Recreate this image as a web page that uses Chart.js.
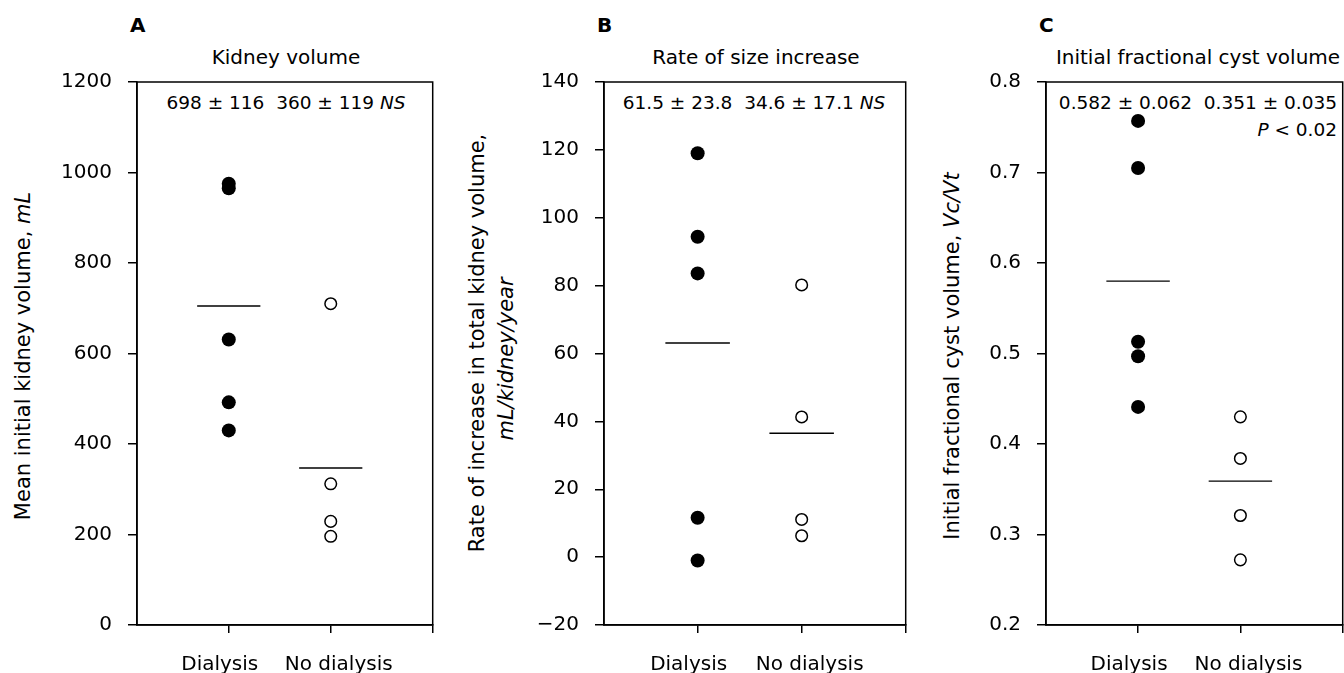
<!DOCTYPE html>
<html>
<head>
<meta charset="utf-8">
<script src="https://cdn.jsdelivr.net/npm/chart.js@4.4.1/dist/chart.umd.min.js"></script>
<style>
  body { margin: 0; width: 1344px; height: 673px; background: #fff; position: relative; overflow: hidden;
         font-family: "DejaVu Sans", sans-serif; color: #000; }
  canvas { position: absolute; }
  .t { position: absolute; white-space: nowrap; line-height: 1; }
  .letter { font-size: 20px; font-weight: bold; }
  .title { font-size: 20px; transform: translateX(-50%); }
  .note { font-size: 18.5px; }
  .ylab { font-size: 21px; transform: translate(-50%, -50%) rotate(-90deg); }
</style>
</head>
<body>

<div class="t letter" style="left:130px; top:15px">A</div>
<div class="t letter" style="left:597px; top:15px">B</div>
<div class="t letter" style="left:1039px; top:15px">C</div>

<div class="t title" style="left:286px; top:47px">Kidney volume</div>
<div class="t title" style="left:756px; top:47px">Rate of size increase</div>
<div class="t title" style="left:1198px; top:47px">Initial fractional cyst volume</div>

<div class="t note" style="left:286px; top:94px; transform:translateX(-50%)">698 ± 116&nbsp; 360 ± 119 <i>NS</i></div>
<div class="t note" style="left:754px; top:94px; transform:translateX(-50%)">61.5 ± 23.8&nbsp; 34.6 ± 17.1 <i>NS</i></div>
<div class="t note" style="right:7px; top:94px">0.582 ± 0.062&nbsp; 0.351 ± 0.035</div>
<div class="t note" style="right:7px; top:121px"><i>P</i> &lt; 0.02</div>

<div class="t ylab" style="left:23px; top:356px">Mean initial kidney volume, <i>mL</i></div>
<div class="t ylab" style="left:477px; top:343px">Rate of increase in total kidney volume,</div>
<div class="t ylab" style="left:506px; top:359px"><i>mL/kidney/year</i></div>
<div class="t ylab" style="left:952px; top:356px">Initial fractional cyst volume, <i>Vc/Vt</i></div>

<canvas id="chartA" width="381" height="606" style="left:57px; top:67px"></canvas>
<canvas id="chartB" width="387" height="606" style="left:524px; top:67px"></canvas>
<canvas id="chartC" width="378" height="606" style="left:966px; top:67px"></canvas>

<script>
const groups = ['Dialysis', 'No dialysis'];

// A: kidney volume, mL
const volDialysis = [975, 965, 631, 492, 430];
const volNoDialysis = [710, 312, 229, 196];
const volMeans = [705, 347];
const volTicks = [0, 200, 400, 600, 800, 1000, 1200];

// B: rate of increase, mL/kidney/year
const rateDialysis = [119, 94.4, 83.6, 11.6, -1.0];
const rateNoDialysis = [80.2, 41.3, 11.1, 6.3];
const rateMeans = [63.1, 36.5];
const rateTicks = [-20, 0, 20, 40, 60, 80, 100, 120, 140];

// C: fractional cyst volume
const cystDialysis = [0.757, 0.705, 0.513, 0.497, 0.441];
const cystNoDialysis = [0.430, 0.384, 0.321, 0.272];
const cystMeans = [0.580, 0.359];
const cystTicks = [0.2, 0.3, 0.4, 0.5, 0.6, 0.7, 0.8];

const HALF = 0.31;            // half length of the mean bar, in x units
const LABEL_SHIFT = [-9, 8];  // group labels sit a little apart from their ticks
const tickFont = { family: 'DejaVu Sans', size: 20 };

// box around the plot area + group names under the x ticks
const frame = {
  id: 'frame',
  afterDraw(chart) {
    const a = chart.chartArea, ctx = chart.ctx, xs = chart.scales.x;
    ctx.save();
    ctx.strokeStyle = '#000';
    ctx.lineWidth = 1.5;
    ctx.strokeRect(a.left, a.top, a.right - a.left, a.bottom - a.top);
    ctx.fillStyle = '#000';
    ctx.font = '20px "DejaVu Sans"';
    ctx.textAlign = 'center';
    ctx.textBaseline = 'alphabetic';
    groups.forEach((g, i) => {
      ctx.fillText(g, xs.getPixelForValue(i + 1) + LABEL_SHIFT[i], a.bottom + 45);
    });
    ctx.restore();
  }
};

function meanLine(x, y) {
  return {
    type: 'line',
    data: [{ x: x - HALF, y: y }, { x: x + HALF, y: y }],
    borderColor: '#000',
    borderWidth: 1.3,
    pointRadius: 0,
    order: 2
  };
}

function makePanel(id, dial, nodial, means, yTicks, fmt) {
  return new Chart(document.getElementById(id), {
    type: 'scatter',
    data: {
      datasets: [
        {
          data: dial.map(v => ({ x: 1, y: v })),
          pointRadius: 7,
          pointBackgroundColor: '#000',
          pointBorderWidth: 0,
          order: 1
        },
        {
          data: nodial.map(v => ({ x: 2, y: v })),
          pointRadius: 5.8,
          pointBackgroundColor: '#fff',
          pointBorderColor: '#000',
          pointBorderWidth: 1.5,
          order: 1
        },
        meanLine(1, means[0]),
        meanLine(2, means[1])
      ]
    },
    options: {
      responsive: false,
      maintainAspectRatio: false,
      animation: false,
      layout: { padding: { top: 4, right: 2, left: 0, bottom: 0 } },
      plugins: { legend: { display: false }, tooltip: { enabled: false } },
      scales: {
        x: {
          type: 'linear',
          min: 0.1,
          max: 3,
          afterBuildTicks: s => { s.ticks = [1, 2, 3].map(v => ({ value: v })); },
          afterFit: s => { s.height = 48; },
          grid: { drawOnChartArea: false, tickLength: 8, color: '#000', lineWidth: 1.5 },
          border: { color: '#000', width: 1.5 },
          ticks: { display: false }
        },
        y: {
          min: yTicks[0],
          max: yTicks[yTicks.length - 1],
          afterBuildTicks: s => { s.ticks = yTicks.map(v => ({ value: v })); },
          afterFit: s => { s.width = 80; },
          grid: { drawOnChartArea: false, tickLength: 9, color: '#000', lineWidth: 1.5 },
          border: { color: '#000', width: 1.5 },
          ticks: { callback: v => fmt(v), font: tickFont, color: '#000', padding: 16, autoSkip: false }
        }
      }
    },
    plugins: [frame]
  });
}

// move / resize a canvas so that its plot area sits on the reference box
function place(chart, box) {
  const cv = chart.canvas;
  for (let i = 0; i < 3; i++) {
    const a = chart.chartArea;
    const w = Math.round(chart.width + (box.right - box.left) - (a.right - a.left));
    const h = Math.round(chart.height + (box.bottom - box.top) - (a.bottom - a.top));
    if (w !== chart.width || h !== chart.height) chart.resize(w, h);
  }
  const b = chart.chartArea;
  cv.style.left = (box.left - b.left) + 'px';
  cv.style.top = (box.top - b.top) + 'px';
}

const chartA = makePanel('chartA', volDialysis, volNoDialysis, volMeans, volTicks, v => String(v));
const chartB = makePanel('chartB', rateDialysis, rateNoDialysis, rateMeans, rateTicks, v => v < 0 ? '\u2212' + Math.abs(v) : String(v));
const chartC = makePanel('chartC', cystDialysis, cystNoDialysis, cystMeans, cystTicks, v => v.toFixed(1));

place(chartA, { left: 137, right: 433, top: 82, bottom: 625 });
place(chartB, { left: 604, right: 906, top: 82, bottom: 625 });
place(chartC, { left: 1046, right: 1343, top: 82, bottom: 625 });
</script>
</body>
</html>
